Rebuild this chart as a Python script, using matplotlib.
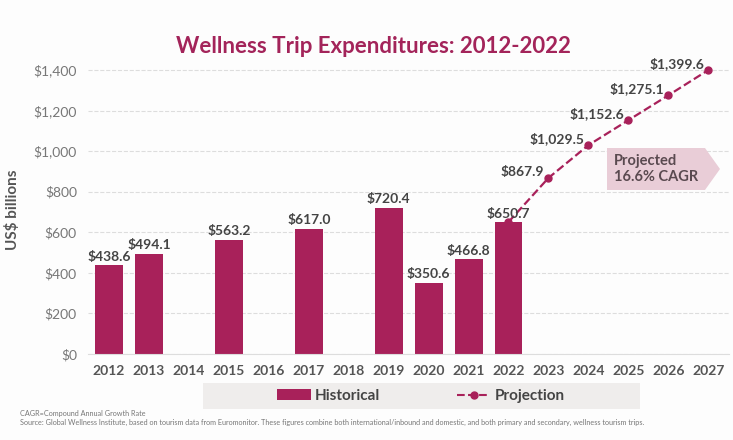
import numpy as np
import matplotlib.pyplot as plt
from matplotlib.patches import Polygon, Rectangle
from matplotlib.lines import Line2D

plt.rcParams['font.family'] = ['Lato', 'DejaVu Sans']

# Dados
anos = list(range(2012, 2028))
anos_hist = [2012, 2013, 2015, 2017, 2019, 2020, 2021, 2022]
gasto_hist = [438.6, 494.1, 563.2, 617.0, 720.4, 350.6, 466.8, 650.7]
anos_proj = [2022, 2023, 2024, 2025, 2026, 2027]
gasto_proj = [650.7, 867.9, 1029.5, 1152.6, 1275.1, 1399.6]
yticks = [0, 200, 400, 600, 800, 1000, 1200, 1400]

cor = '#A8215A'
cinza = '#555555'

fig = plt.figure(figsize=(7.33, 4.4), dpi=100)
fig.patch.set_facecolor('#FDFDFD')
ax = fig.add_axes([0.12, 0.1955, 0.875, 0.6545])
ax.set_facecolor('#FDFDFD')

ax.bar(anos_hist, gasto_hist, width=0.7, color=cor, zorder=2)
for x, v in zip(anos_hist, gasto_hist):
    ax.text(x, v + 12, f'${v:,.1f}', ha='center', va='bottom', fontsize=10,
            fontweight='bold', color='#444444', zorder=4)

ax.plot(anos_proj, gasto_proj, '--', color=cor, marker='o', markersize=5,
        linewidth=1.6, zorder=3)
for x, v in zip(anos_proj[1:], gasto_proj[1:]):
    ax.text(x - 0.1, v, f'${v:,.1f}', ha='right', va='bottom', fontsize=10,
            fontweight='bold', color='#444444', zorder=4)

ax.set_xlim(2011.47, 2027.53)
ax.set_ylim(0, 1420)
ax.set_xticks(anos)
ax.set_xticklabels([str(a) for a in anos], fontsize=10, fontweight='bold', color=cinza)
ax.set_yticks(yticks)
ax.set_yticklabels([f'${t:,}' for t in yticks], fontsize=10, color='#777777')
ax.tick_params(length=0, pad=8)
ax.grid(axis='y', linestyle='--', color='#DDDDDD', linewidth=0.8, zorder=0)
for s in ['top', 'right', 'left']:
    ax.spines[s].set_visible(False)
ax.spines['bottom'].set_color('#DDDDDD')
ax.set_ylabel('US$ billions', fontsize=11, fontweight='bold', color=cinza, labelpad=10)

fig.text(0.51, 0.895, 'Wellness Trip Expenditures: 2012-2022', ha='center', va='center',
         fontsize=16, fontweight='bold', color='#A3245A')

# seta "Projected"
fig.patches.append(Polygon([(607 / 733, 1 - 148 / 440), (705 / 733, 1 - 148 / 440),
                            (720 / 733, 1 - 169 / 440), (705 / 733, 1 - 190 / 440),
                            (607 / 733, 1 - 190 / 440)], closed=True,
                           transform=fig.transFigure, facecolor='#E9CDD7',
                           edgecolor='none', zorder=1))
fig.text(614 / 733, 1 - 169 / 440, 'Projected\n16.6% CAGR', ha='left', va='center',
         fontsize=10.5, fontweight='bold', color='#5A4A50', linespacing=1.1)

# legenda
fig.patches.append(Rectangle((203 / 733, 1 - 409 / 440), 437 / 733, 26 / 440,
                             transform=fig.transFigure, facecolor='#EFEDEC',
                             edgecolor='none'))
h1 = Rectangle((0, 0), 1, 1, facecolor=cor)
h2 = Line2D([], [], color=cor, linestyle='--', marker='o', markersize=5)
fig.legend([h1, h2], ['Historical', 'Projection'], loc='center',
           bbox_to_anchor=(421 / 733, 1 - 396 / 440), ncol=2, frameon=False,
           prop={'size': 11, 'weight': 'bold'}, labelcolor='#444444',
           columnspacing=5, handlelength=2.2, handletextpad=0.3)

fig.text(20 / 733, 1 - 413 / 440, 'CAGR=Compound Annual Growth Rate', fontsize=5.2,
         color='#777777', va='center')
fig.text(20 / 733, 1 - 422 / 440,
         'Source: Global Wellness Institute, based on tourism data from Euromonitor. These figures combine both '
         'international/inbound and domestic, and both primary and secondary, wellness tourism trips.',
         fontsize=5.2, color='#777777', va='center')

plt.savefig('out.png', dpi=100)
